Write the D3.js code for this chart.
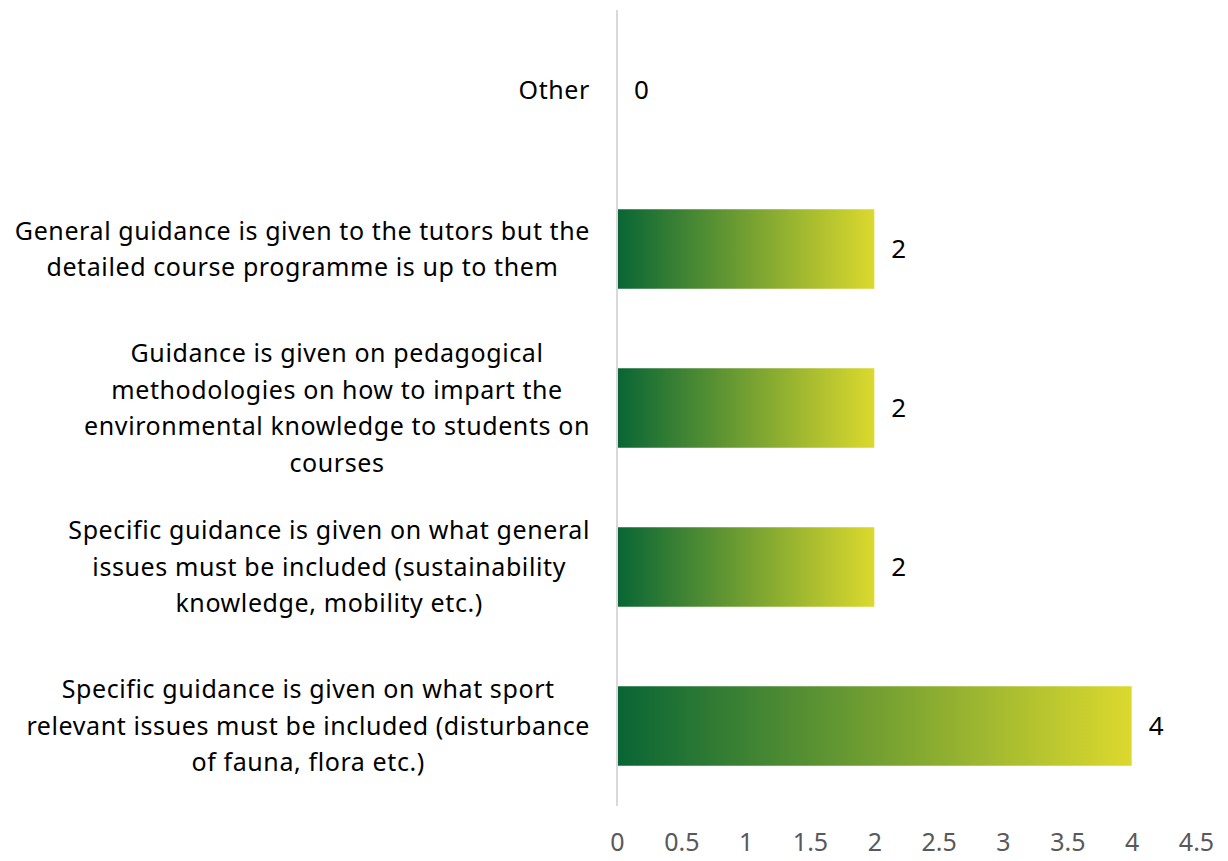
<!DOCTYPE html>
<html><head><meta charset="utf-8">
<script src="https://cdn.jsdelivr.net/npm/d3@7"></script>
<style>body{margin:0;background:#fff}svg{display:block}</style>
</head><body>
<svg id="c" width="1228" height="861"></svg>
<script>
const categories = [
  ["Other"],
  ["General guidance is given to the tutors but the", "detailed course programme is up to them"],
  ["Guidance is given on pedagogical", "methodologies on how to impart the", "environmental knowledge to students on", "courses"],
  ["Specific guidance is given on what general", "issues must be included (sustainability", "knowledge, mobility etc.)"],
  ["Specific guidance is given on what sport", "relevant issues must be included (disturbance", "of fauna, flora etc.)"]
];
const values = [0, 2, 2, 2, 4];
const tickValues = [0, 0.5, 1, 1.5, 2, 2.5, 3, 3.5, 4, 4.5];

const svg = d3.select("#c");
const font = "'Noto Sans', sans-serif";
const x = d3.scaleLinear().domain([0, 4.5]).range([617, 1196]);
const y = d3.scaleBand().domain(d3.range(categories.length)).range([10.5, 805.5]).paddingInner(0.5).paddingOuter(0.25);

const defs = svg.append("defs");
const g = defs.append("linearGradient").attr("id", "grad").attr("x1", 0).attr("x2", 1).attr("y1", 0).attr("y2", 0);
g.append("stop").attr("offset", 0).attr("stop-color", "#086535");
g.append("stop").attr("offset", 1).attr("stop-color", "#dcd92e");

svg.selectAll("rect.bar").data(values).join("rect").attr("class", "bar")
  .attr("x", x(0)).attr("y", (d, i) => y(i))
  .attr("width", d => x(d) - x(0)).attr("height", y.bandwidth())
  .attr("fill", "url(#grad)");

svg.append("line").attr("x1", x(0)).attr("x2", x(0)).attr("y1", 10).attr("y2", 806)
  .attr("stroke", "#d9d9d9").attr("stroke-width", 2);

svg.selectAll("text.val").data(values).join("text").attr("class", "val")
  .attr("x", d => x(d) + 17).attr("y", (d, i) => y(i) + y.bandwidth() / 2)
  .attr("dy", "0.35em").attr("font-family", font).attr("font-size", 26).attr("fill", "#000")
  .text(d => d);

const axis = d3.axisBottom(x).tickValues(tickValues).tickSize(0).tickPadding(0).tickFormat(d3.format("~g"));
const ax = svg.append("g").attr("transform", "translate(0,842)").call(axis);
ax.select(".domain").remove();
ax.selectAll("text").attr("font-family", font).attr("font-size", 25).attr("fill", "#595959").attr("dy", "0.35em");

const lh = 36.5;
categories.forEach((lines, i) => {
  const cy = y(i) + y.bandwidth() / 2;
  const grp = svg.append("g");
  const ts = lines.map((l, k) => grp.append("text").attr("font-family", font).attr("font-size", 25)
    .attr("letter-spacing", 0.6).attr("fill", "#000")
    .attr("y", cy + (k - (lines.length - 1) / 2) * lh).attr("dy", "0.35em").attr("text-anchor", "middle").text(l));
  const w = d3.max(ts, t => t.node().getComputedTextLength());
  ts.forEach(t => t.attr("x", 590 - w / 2));
});
</script>
</body></html>
